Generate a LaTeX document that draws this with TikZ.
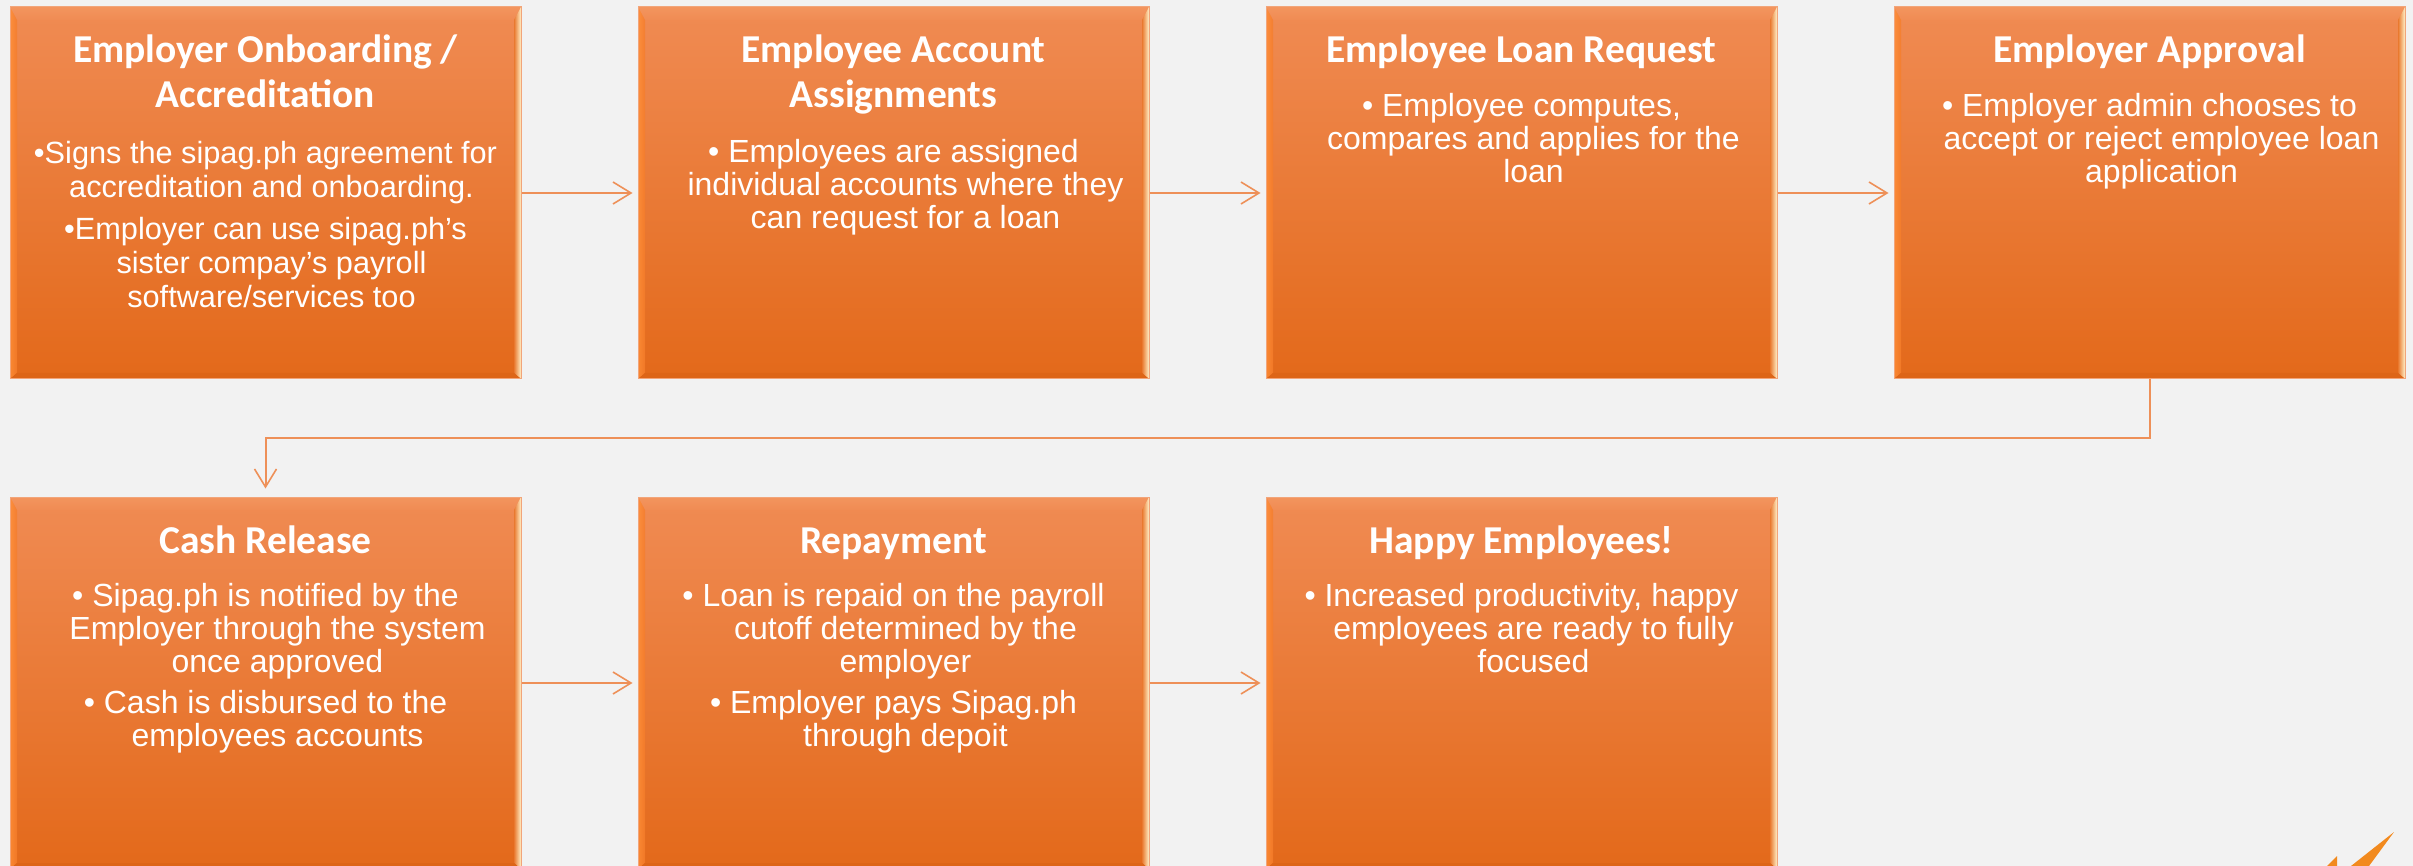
\documentclass[tikz,border=0pt]{standalone}
\usepackage{fontspec}
\setmainfont{Liberation Sans}
\newfontfamily\headfont{Carlito}
\usetikzlibrary{arrows.meta,calc}

\definecolor{pagegray}{HTML}{F2F2F2}
\definecolor{boxtop}{HTML}{F08B53}
\definecolor{boxmid}{HTML}{F57C2A}
\definecolor{boxbot}{HTML}{E3691A}
\definecolor{boxedge}{HTML}{F2A57A}
\definecolor{bevlight}{HTML}{FFE4A8}
\definecolor{bevtop}{HTML}{F3955E}
\definecolor{bevleft}{HTML}{FF8F38}
\definecolor{bevright}{HTML}{FFF0C8}
\definecolor{bevshade}{HTML}{E9792F}
\definecolor{bevbot}{HTML}{DD6517}
\definecolor{linkcol}{HTML}{EE9058}
\definecolor{logocol}{HTML}{F28A1E}

% centred block of lines whose first baseline is the node's base
\newcommand\lines[1]{\parbox[t]{500pt}{\centering #1}}
% wrapped continuation line of a bullet item
\newcommand\cont[1]{\hspace*{24pt}#1}

\begin{document}
\begin{tikzpicture}[x=1pt,y=-1pt,
  stepbox/.style={rectangle, minimum width=511pt, minimum height=372pt,
    inner sep=0pt, draw=boxedge, line width=1pt,
    top color=boxtop, middle color=boxmid, bottom color=boxbot,
    path picture={
      \coordinate (pnw) at (path picture bounding box.north west);
      \coordinate (pne) at (path picture bounding box.north east);
      \coordinate (psw) at (path picture bounding box.south west);
      \coordinate (pse) at (path picture bounding box.south east);
      % top bevel
      \shade[top color=bevtop, middle color=bevlight, bottom color=boxtop]
        (pnw) -- (pne) -- ([shift={(-7,13)}]pne) -- ([shift={(7,13)}]pnw) -- cycle;
      % left bevel
      \shade[left color=bevleft, right color=boxmid, opacity=0.8]
        (pnw) -- ([shift={(7,13)}]pnw) -- ([shift={(7,-6)}]psw) -- (psw) -- cycle;
      % right bevel
      \shade[left color=bevshade, right color=bevright]
        (pne) -- ([shift={(-7,13)}]pne) -- ([shift={(-7,-6)}]pse) -- (pse) -- cycle;
      % bottom bevel
      \fill[bevbot]
        (psw) -- ([shift={(7,-6)}]psw) -- ([shift={(-7,-6)}]pse) -- (pse) -- cycle;
    }},
  title/.style={font=\headfont\bfseries\fontsize{39.5}{44.6}\selectfont,
    text=white, anchor=base, inner sep=0pt},
  body/.style={font=\fontsize{32}{33}\selectfont,
    text=white, anchor=base, inner sep=0pt},
  smallbody/.style={font=\fontsize{30.7}{34}\selectfont,
    text=white, anchor=base, inner sep=0pt},
  link/.style={draw=linkcol, line width=2pt,
    -{Straight Barb[length=18pt,width=22pt,line width=1.6pt]}},
]

% page
\fill[pagegray] (0,0) rectangle (2413,866);
\useasboundingbox (0,0) rectangle (2413,866);
\clip (0,0) rectangle (2413,866);

% ---------- first row ----------
\node[stepbox] (b1) at (265.5,193) {};
\node[stepbox] (b2) at (893.5,193) {};
\node[stepbox] (b3) at (1521.5,193) {};
\node[stepbox] (b4) at (2149.5,193) {};

\node[title] (t1) at (265.5,63) {\lines{Employer Onboarding /\\Accreditation}};
\node[smallbody] (x1) at (265.5,164) {\lines{%
  •Signs the sipag.ph agreement for\\
  \hspace*{12pt}accreditation and onboarding.\\[8pt]
  •Employer can use sipag.ph’s\\
  \hspace*{12pt}sister compay’s payroll\\
  \hspace*{12pt}software/services too}};

\node[title] (t2) at (893.5,63) {\lines{Employee Account\\Assignments}};
\node[body] (x2) at (893.5,163) {\lines{%
  • Employees are assigned\\
  \cont{individual accounts where they}\\
  \cont{can request for a loan}}};

\node[title] (t3) at (1521.5,63) {\lines{Employee Loan Request}};
\node[body] (x3) at (1521.5,117) {\lines{%
  • Employee computes,\\
  \cont{compares and applies for the}\\
  \cont{loan}}};

\node[title] (t4) at (2149.5,63) {\lines{Employer Approval}};
\node[body] (x4) at (2149.5,117) {\lines{%
  • Employer admin chooses to\\
  \cont{accept or reject employee loan}\\
  \cont{application}}};

% ---------- second row ----------
\node[stepbox] (b5) at (265.5,683) {};
\node[stepbox] (b6) at (893.5,683) {};
\node[stepbox] (b7) at (1521.5,683) {};

\node[title] (t5) at (265.5,553) {\lines{Cash Release}};
\node[body] (x5) at (265.5,606) {\lines{%
  • Sipag.ph is notified by the\\
  \cont{Employer through the system}\\
  \cont{once approved}\\[8pt]
  • Cash is disbursed to the\\
  \cont{employees accounts}}};

\node[title] (t6) at (893.5,553) {\lines{Repayment}};
\node[body] (x6) at (893.5,606) {\lines{%
  • Loan is repaid on the payroll\\
  \cont{cutoff determined by the}\\
  \cont{employer}\\[8pt]
  • Employer pays Sipag.ph\\
  \cont{through depoit}}};

\node[title] (t7) at (1521.5,553) {\lines{Happy Employees!}};
\node[body] (x7) at (1521.5,606) {\lines{%
  • Increased productivity, happy\\
  \cont{employees are ready to fully}\\
  \cont{focused}}};

% ---------- connectors ----------
\draw[link, shorten >=5pt] (b1) -- (b2);
\draw[link, shorten >=5pt] (b2) -- (b3);
\draw[link, shorten >=5pt] (b3) -- (b4);
\coordinate (wrap) at (0,438);
\draw[link, shorten >=8pt] (b4.south) -- (b4.south |- wrap) -| (b5.north);
\draw[link, shorten >=5pt] (b5) -- (b6);
\draw[link, shorten >=5pt] (b6) -- (b7);

% ---------- corner mark ----------
\fill[logocol] (2394,832) -- (2351,866) -- (2369,866) -- cycle;
\fill[logocol] (2337,856) -- (2337,866) -- (2327,866) -- cycle;

\end{tikzpicture}
\end{document}
